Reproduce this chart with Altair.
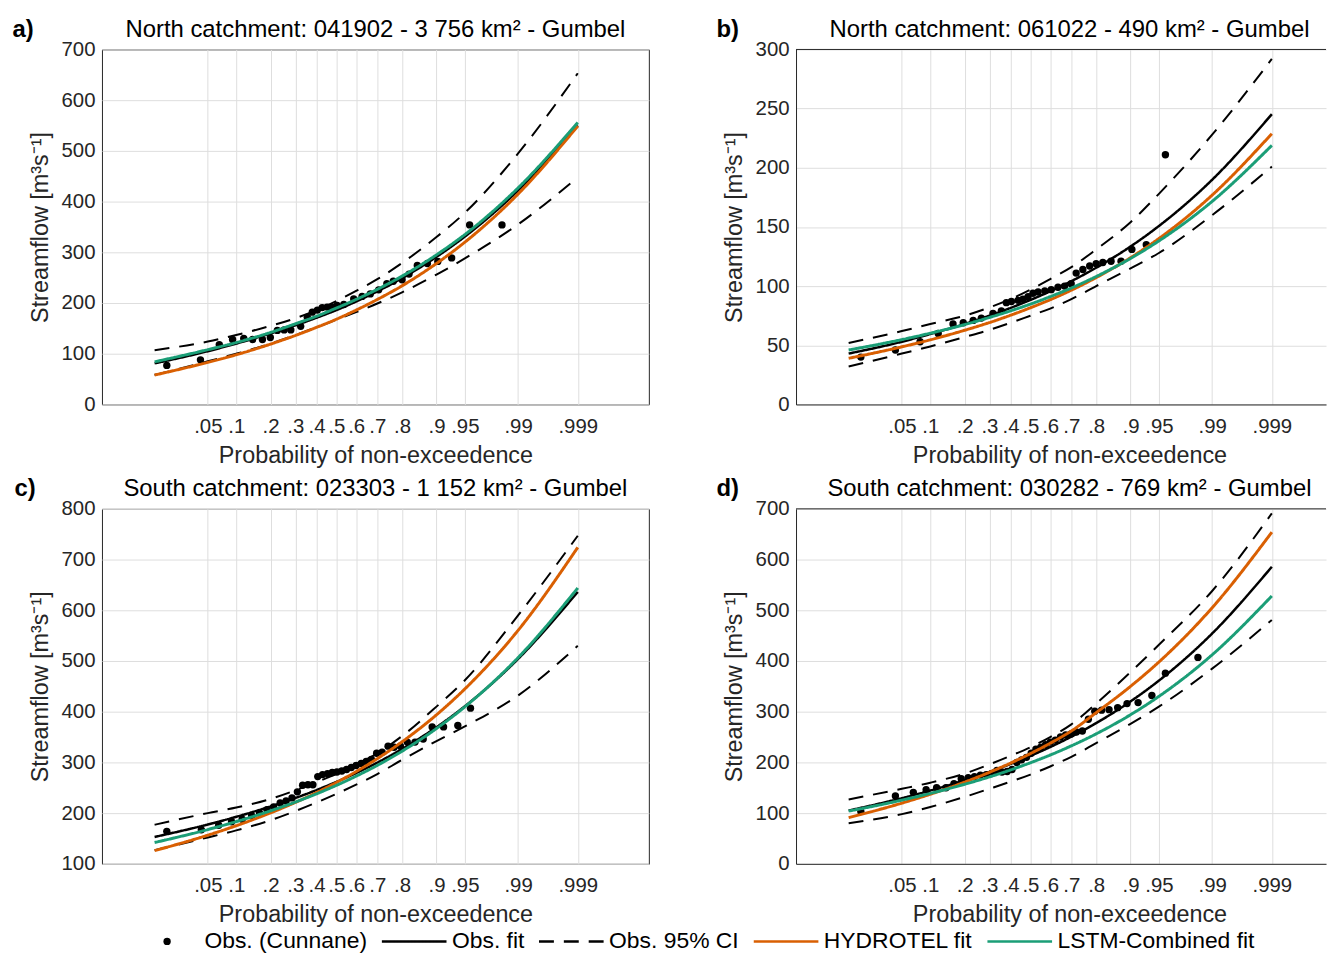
import altair as alt
import pandas as pd
from statistics import NormalDist

FONT = "Liberation Sans"
INK = "#262626"
GRID = "#dedede"
ORANGE = "#D95F02"
GREEN = "#1B9E77"

OBS_NAME = "Obs. (Cunnane)"
LINE_SERIES = ["Obs. fit", "Obs. 95% CI", "HYDROTEL fit", "LSTM-Combined fit"]
LINE_COLORS = ["black", "black", ORANGE, GREEN]
LINE_DASH = [[1, 0], [15, 10], [1, 0], [1, 0]]

X_TICK_P = [0.05, 0.1, 0.2, 0.3, 0.4, 0.5, 0.6, 0.7, 0.8, 0.9, 0.95, 0.99, 0.999]
X_TICK_Z = [NormalDist().inv_cdf(p) for p in X_TICK_P]

P_CURVE = [0.01, 0.05, 0.1, 0.2, 0.3, 0.4, 0.5, 0.6, 0.7, 0.8, 0.9, 0.95, 0.99, 0.999]

# ---- a) North 041902
A_FIT = [81, 105, 120, 140, 156, 171, 186, 203, 223, 249, 291, 331, 422, 550]
A_UP = [107, 124, 137, 155, 170, 186, 204, 224, 247, 279, 330, 378, 495, 653]
A_LO = [58, 85, 100, 120, 137, 152, 167, 182, 199, 221, 256, 288, 355, 448]
A_HYD = [58, 83, 98, 119, 136, 152, 168, 186, 207, 234, 278, 320, 415, 549]
A_LSTM = [84, 108, 122, 142, 159, 174, 190, 207, 227, 253, 295, 335, 427, 556]
A_OBS_P = [0.015, 0.041, 0.067, 0.092, 0.118, 0.142, 0.172, 0.199, 0.225, 0.252, 0.280,
           0.324, 0.355, 0.379, 0.404, 0.428, 0.453, 0.479, 0.504, 0.538, 0.588, 0.629,
           0.668, 0.706, 0.741, 0.767, 0.800, 0.824, 0.850, 0.878, 0.903, 0.930, 0.956, 0.983]
A_OBS_Q = [77, 88, 118, 128, 130, 128, 128, 132, 146, 147, 147, 154, 172, 182, 186, 191,
           192, 192, 195, 197, 208, 213, 218, 226, 238, 243, 246, 257, 274, 278, 282, 289,
           354, 354]

# ---- b) North 061022
B_FIT = [43, 53, 59.5, 68, 75, 81.6, 88.3, 95.6, 104.2, 115.5, 133.5, 150.8, 189.9, 245.3]
B_UP = [52, 62, 68, 75, 82, 89, 97, 106, 116, 131, 154, 178, 228, 292]
B_LO = [32, 43, 49, 57, 63, 69, 75, 81, 89, 100, 115, 128, 160, 201]
B_HYD = [39, 48.7, 54.6, 62.7, 69.2, 75.4, 81.7, 88.5, 96.6, 107.2, 124, 140.2, 176.9, 228.8]
B_LSTM = [46, 54.8, 60.2, 67.5, 73.5, 79.1, 84.8, 91.1, 98.4, 108.1, 123.4, 138.2, 171.6, 218.9]
B_OBS_P = [0.015, 0.042, 0.079, 0.119, 0.161, 0.195, 0.232, 0.265, 0.316, 0.355, 0.379,
           0.404, 0.437, 0.462, 0.488, 0.513, 0.539, 0.573, 0.605, 0.638, 0.669, 0.699,
           0.721, 0.749, 0.776, 0.800, 0.823, 0.849, 0.877, 0.903, 0.931, 0.958]
B_OBS_Q = [40, 46, 53, 60, 68, 69, 71, 73, 77, 79, 86, 87, 88, 89, 91, 94, 95, 96, 97, 99,
           100, 102, 111, 114, 117, 119, 120, 121, 121, 131, 135, 211]

# ---- c) South 023303
C_FIT = [153, 177.6, 192.7, 213.2, 229.8, 245.5, 261.5, 279, 299.6, 326.5, 369.4, 410.7, 504.1, 636.3]
C_UP = [177, 200, 211, 228, 245, 261, 277, 296, 318, 352, 410, 462, 590, 747]
C_LO = [127, 152, 166, 186, 204, 221, 238, 256, 277, 305, 342, 371, 432, 530]
C_HYD = [126, 156.5, 175.2, 200.6, 221.1, 240.5, 260.3, 281.9, 307.4, 340.7, 393.8, 444.9, 560.4, 724]
C_LSTM = [142, 167.6, 183.3, 204.6, 221.8, 238.1, 254.7, 272.9, 294.2, 322.2, 366.8, 409.6, 506.6, 643.9]
C_OBS_P = [0.015, 0.042, 0.066, 0.090, 0.114, 0.139, 0.163, 0.187, 0.211, 0.236, 0.260,
           0.285, 0.309, 0.333, 0.358, 0.382, 0.406, 0.430, 0.455, 0.479, 0.503, 0.528,
           0.552, 0.576, 0.600, 0.625, 0.649, 0.673, 0.697, 0.721, 0.746, 0.770, 0.794,
           0.818, 0.843, 0.867, 0.890, 0.915, 0.940, 0.957]
C_OBS_Q = [164, 167, 176, 183, 188, 195, 200, 207, 212, 220, 224, 230, 242, 255, 256, 256,
           272, 276, 278, 280, 281, 283, 286, 290, 294, 298, 302, 306, 318, 320, 332, 330,
           332, 340, 340, 346, 370, 370, 373, 407]

# ---- d) South 030282
D_FIT = [105, 129.5, 144.5, 164.9, 181.4, 197, 212.9, 230.3, 250.8, 277.5, 320.3, 361.3, 454.2, 585.7]
D_UP = [127, 148, 160, 178, 196, 213, 230, 250, 275, 316, 378, 432, 538, 691]
D_LO = [80, 98, 112, 132, 148, 162, 176, 192, 211, 238, 276, 310, 385, 481]
D_HYD = [91, 119.7, 137.2, 161.1, 180.5, 198.7, 217.4, 237.8, 262, 298, 350, 398, 505, 654]
D_LSTM = [104, 125.6, 138.9, 156.9, 171.4, 185.2, 199.3, 214.6, 232.7, 256.3, 294, 330.2, 412.2, 528.2]
D_OBS_P = [0.015, 0.042, 0.067, 0.091, 0.115, 0.140, 0.164, 0.188, 0.213, 0.237, 0.261,
           0.286, 0.310, 0.334, 0.358, 0.383, 0.407, 0.431, 0.455, 0.480, 0.504, 0.528,
           0.553, 0.577, 0.601, 0.625, 0.650, 0.674, 0.698, 0.722, 0.747, 0.771, 0.795,
           0.819, 0.843, 0.868, 0.892, 0.916, 0.940, 0.958, 0.984]
D_OBS_Q = [103, 134, 141, 146, 150, 150, 158, 168, 170, 172, 175, 176, 178, 184, 181, 182,
           186, 200, 205, 210, 218, 226, 230, 235, 240, 244, 250, 254, 256, 260, 262, 285,
           301, 303, 304, 308, 316, 318, 332, 376, 407]

# ---- layout
X_MIN, X_MAX = -3.0, 4.0
W_FULL = 550
PX_PER_Z = W_FULL / (X_MAX - X_MIN)
W_CROP = 533
X_MAX_CROP = X_MIN + W_CROP / PX_PER_Z
H = 357

FILL_SCALE = alt.Scale(domain=[OBS_NAME], range=["black"])
STROKE_SCALE = alt.Scale(domain=LINE_SERIES, range=LINE_COLORS)
DASH_SCALE = alt.Scale(domain=LINE_SERIES, range=LINE_DASH)

LEG_Y = 885
DOT_LEGEND = alt.Legend(
    title=None, orient="none", legendX=54, legendY=LEG_Y, direction="horizontal",
    symbolType="circle", symbolSize=55, symbolStrokeWidth=0, symbolFillColor="black",
    labelFont=FONT, labelFontSize=23, labelColor="black", labelOffset=26, labelLimit=400,
    clipHeight=24,
)
LINE_LEGEND = alt.Legend(
    title=None, orient="none", legendX=280, legendY=LEG_Y, direction="horizontal",
    columns=4, gridAlign="each", symbolType="stroke", symbolSize=4225,
    symbolStrokeWidth=2.5, labelFont=FONT, labelFontSize=23, labelColor="black",
    labelOffset=4, columnPadding=13, labelLimit=400, clipHeight=24,
)

ZCALC = "quantileNormal(datum.p)"


def curves_df(fit, up, lo, hyd, lstm):
    rows = []
    for curve, series, vals in (("fit", "Obs. fit", fit), ("ci_up", "Obs. 95% CI", up),
                                ("ci_lo", "Obs. 95% CI", lo), ("hyd", "HYDROTEL fit", hyd),
                                ("lstm", "LSTM-Combined fit", lstm)):
        for p, q in zip(P_CURVE, vals):
            rows.append({"p": p, "q": q, "curve": curve, "series": series})
    return pd.DataFrame(rows)


def panel(letter, letter_dx, title, obs_p, obs_q, fit, up, lo, hyd, lstm,
          y_min, y_max, y_step, cropped):
    width = W_CROP if cropped else W_FULL
    xmax = X_MAX_CROP if cropped else X_MAX
    xscale = alt.Scale(domain=[X_MIN, xmax], nice=False, zero=False)
    yscale = alt.Scale(domain=[y_min, y_max], nice=False, zero=False)
    xaxis = alt.Axis(values=X_TICK_Z,
                     labelExpr="slice(format(cumulativeNormal(datum.value), '.3~f'), 1)",
                     title="Probability of non-exceedence", titleX=W_FULL / 2,
                     grid=True, ticks=False, domain=cropped, labelOverlap=False,
                     labelFlush=False, labelPadding=12, titlePadding=7)
    yaxis = alt.Axis(values=list(range(y_min, y_max + 1, y_step)),
                     title="Streamflow [m³s⁻¹]", grid=True, ticks=False, domain=cropped,
                     labelPadding=7, titlePadding=9)
    x = alt.X("z:Q", scale=xscale, axis=xaxis)
    y = alt.Y("q:Q", scale=yscale, axis=yaxis)
    fill = alt.Fill("series:N", scale=FILL_SCALE, legend=DOT_LEGEND)
    stroke = alt.Stroke("series:N", scale=STROKE_SCALE, legend=LINE_LEGEND)
    dash = alt.StrokeDash("series:N", scale=DASH_SCALE, legend=LINE_LEGEND)

    obs = pd.DataFrame({"p": obs_p, "q": obs_q, "series": OBS_NAME})
    cur = curves_df(fit, up, lo, hyd, lstm)

    pts = (alt.Chart(obs).transform_calculate(z=ZCALC)
           .mark_circle(size=55, opacity=1).encode(x=x, y=y, fill=fill))
    base = alt.Chart(cur).transform_calculate(z=ZCALC)

    def line(flt, sw):
        return (base.transform_filter(flt)
                .mark_line(strokeWidth=sw, interpolate="monotone")
                .encode(x=x, y=y, stroke=stroke, strokeDash=dash, detail="curve:N"))

    layers = [pts,
              line("datum.curve === 'fit'", 2.5),
              line("datum.series === 'Obs. 95% CI'", 2),
              line("datum.curve === 'hyd'", 3),
              line("datum.curve === 'lstm'", 3)]
    tag = (alt.Chart(pd.DataFrame({"t": [letter]}))
           .mark_text(align="left", baseline="middle", font=FONT, fontSize=24,
                      fontWeight="bold", color="black")
           .encode(text="t:N", x=alt.value(letter_dx), y=alt.value(-20)))
    head = (alt.Chart(pd.DataFrame({"t": [title]}))
            .mark_text(align="center", baseline="middle", font=FONT, fontSize=24,
                       color="black")
            .encode(text="t:N", x=alt.value(W_FULL / 2), y=alt.value(-20)))
    layers += [tag, head]
    if cropped:
        # top frame line of the (right-cropped) panel
        top = (alt.Chart(pd.DataFrame({"t": [0]}))
               .mark_rule(color=INK, strokeWidth=1)
               .encode(x=alt.value(0), x2=alt.value(width), y=alt.value(0)))
        layers.append(top)
    ch = alt.layer(*layers).properties(width=width, height=H)
    if cropped:
        ch = ch.properties(view=alt.ViewBackground(stroke="transparent"))
    return ch


a = panel("a)", -90, "North catchment: 041902 - 3 756 km² - Gumbel", A_OBS_P, A_OBS_Q,
          A_FIT, A_UP, A_LO, A_HYD, A_LSTM, 0, 700, 100, False)
b = panel("b)", -80, "North catchment: 061022 - 490 km² - Gumbel", B_OBS_P, B_OBS_Q,
          B_FIT, B_UP, B_LO, B_HYD, B_LSTM, 0, 300, 50, True)
c = panel("c)", -88, "South catchment: 023303 - 1 152 km² - Gumbel", C_OBS_P, C_OBS_Q,
          C_FIT, C_UP, C_LO, C_HYD, C_LSTM, 100, 800, 100, False)
d = panel("d)", -80, "South catchment: 030282 - 769 km² - Gumbel", D_OBS_P, D_OBS_Q,
          D_FIT, D_UP, D_LO, D_HYD, D_LSTM, 0, 700, 100, True)

chart = (
    alt.vconcat(alt.hconcat(a, b, spacing=66), alt.hconcat(c, d, spacing=66), spacing=8)
    .resolve_scale(fill="shared", stroke="shared", strokeDash="shared")
    .properties(padding={"left": 3.5, "top": 6, "right": 0, "bottom": 0})
    .configure_view(stroke=INK, strokeWidth=1)
    .configure_axis(labelFont=FONT, labelFontSize=20.5, labelColor=INK, titleFont=FONT,
                    titleFontSize=23.5, titleColor=INK, titleFontWeight="normal",
                    gridColor=GRID, gridWidth=1, domainColor=INK, domainWidth=1)
)

chart.save("out.html", embed_options={"renderer": "svg", "actions": False})
